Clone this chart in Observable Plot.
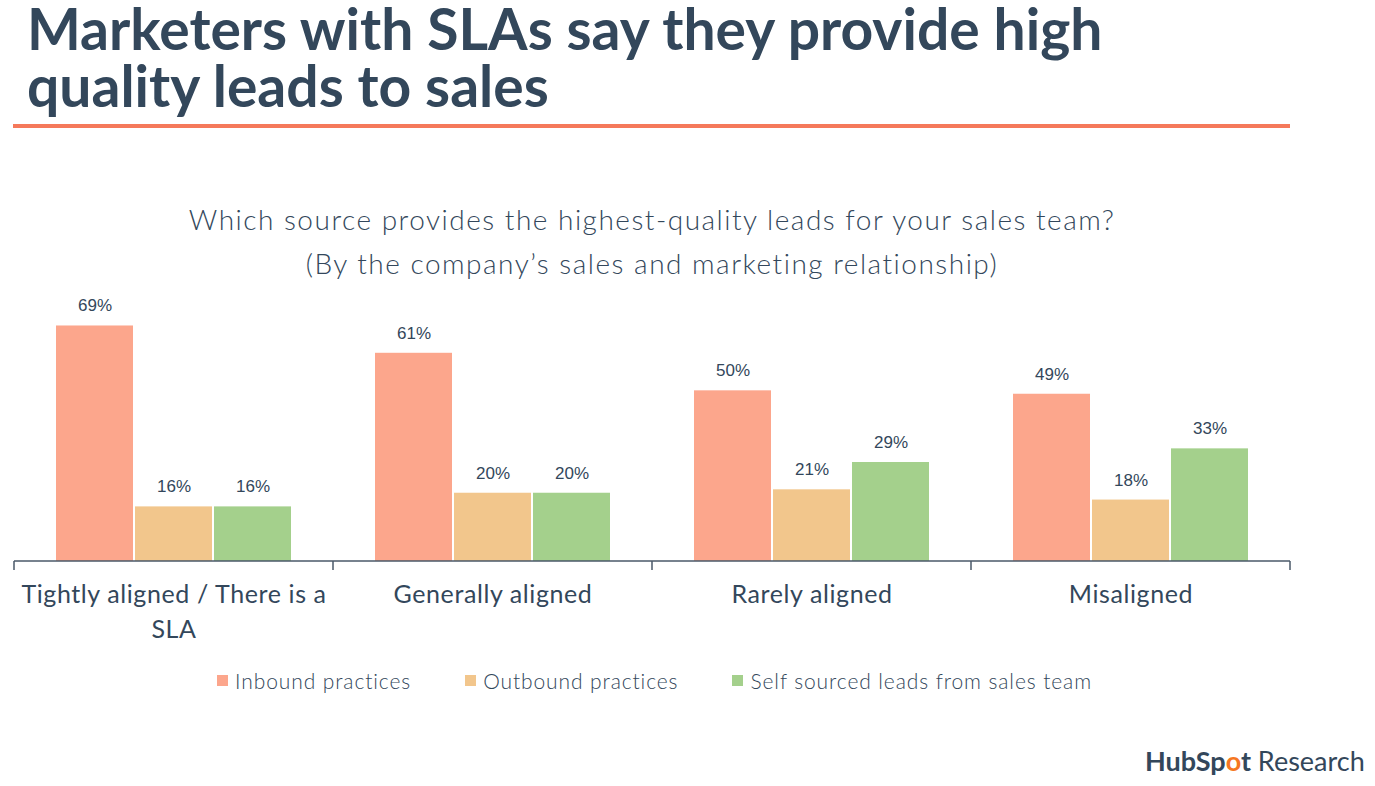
<!DOCTYPE html>
<html><head><meta charset="utf-8">
<script src="https://cdn.jsdelivr.net/npm/d3@7"></script>
<script src="https://cdn.jsdelivr.net/npm/@observablehq/plot@0.6"></script>
<style>
html,body{margin:0;padding:0;background:#fff}
body{width:1375px;height:786px;position:relative;overflow:hidden;font-family:Lato,"Open Sans",sans-serif;color:#33475b}
#title{position:absolute;left:27px;top:0px;font-weight:700;font-size:57px;line-height:57px;white-space:nowrap}
#rule{position:absolute;left:13px;top:124px;width:1277px;height:4px;background:#f5795b}
#subtitle{position:absolute;left:0;width:1304px;top:197px;text-align:center;font-size:28px;line-height:44px;font-weight:300;letter-spacing:1.5px}
#chart{position:absolute;left:0;top:290px}
#legend{position:absolute;left:0;width:1309px;top:668px;display:flex;justify-content:center;gap:54px;font-size:21px;font-weight:300;letter-spacing:0.9px}
#legend .item{display:flex;align-items:center;gap:7px}
#legend .sw{width:11px;height:11px;display:inline-block}
#logo{position:absolute;left:1145px;top:744px;font-size:27px;white-space:nowrap}
#logo b{font-weight:700}
</style></head>
<body>
<div id="title">Marketers with SLAs say they provide high<br>quality leads to sales</div>
<div id="rule"></div>
<div id="subtitle">Which source provides the highest-quality leads for your sales team?<br>(By the company’s sales and marketing relationship)</div>
<div id="chart"></div>
<div id="legend"></div>
<div id="logo"><b>HubSp<span style="color:#f57722">o</span>t</b> Research</div>
<script>
const categories = ["Tightly aligned / There is a SLA", "Generally aligned", "Rarely aligned", "Misaligned"];
const categoryLabels = ["Tightly aligned / There is a\nSLA", "Generally aligned", "Rarely aligned", "Misaligned"];
const series = ["Inbound practices", "Outbound practices", "Self sourced leads from sales team"];
const inbound = [69, 61, 50, 49];
const outbound = [16, 20, 21, 18];
const selfSourced = [16, 20, 29, 33];
const colors = ["#fca68c", "#f2c68c", "#a4d08c"];

const seriesValues = [inbound, outbound, selfSourced];
const data = categories.flatMap((c, i) => series.map((s, j) => ({category: c, series: s, value: seriesValues[j][i]})));
const labelOf = new Map(categories.map((c, i) => [c, categoryLabels[i]]));

const plot = Plot.plot({
  width: 1375, height: 360,
  marginLeft: 13, marginRight: 85, marginTop: 15, marginBottom: 89,
  style: {fontFamily: "Lato, sans-serif", color: "#33475b", background: "transparent", overflow: "visible"},
  fx: {domain: categories, padding: 0, axis: null},
  x: {domain: series, paddingInner: 0.025, paddingOuter: 0.5075, axis: null},
  y: {domain: [0, 75], axis: null},
  color: {domain: series, range: colors},
  marks: [
    Plot.barY(data, {fx: "category", x: "series", y: "value", fill: "series"}),
    Plot.text(data, {fx: "category", x: "series", y: "value", text: d => d.value + "%", dy: -20,
      fontSize: 17, fill: "#33475b", fontFamily: "Liberation Sans, Arial, sans-serif"}),
    Plot.axisFx({anchor: "bottom", label: null, tickSize: 0, tickPadding: 17, fontSize: 25, lineHeight: 1.4,
      tickFormat: d => labelOf.get(d), fill: "#33475b"})
  ]
});
document.getElementById("chart").appendChild(plot);

// letter spacing for category labels
d3.select(plot).selectAll("[aria-label='fx-axis tick label'] text").style("letter-spacing", "0.6px");

// baseline and category boundary ticks from the fx scale
const fx = plot.scale("fx");
const y = plot.scale("y");
const y0 = y.apply(0);
const edges = categories.map(c => fx.apply(c)).concat([fx.apply(categories[categories.length - 1]) + fx.bandwidth]);
const svg = d3.select(plot);
const g = svg.append("g").attr("stroke", "#4a5868").attr("stroke-width", 1.5);
g.append("line").attr("x1", edges[0]).attr("x2", edges[edges.length - 1]).attr("y1", y0).attr("y2", y0);
edges.forEach(e => g.append("line").attr("x1", e).attr("x2", e).attr("y1", y0).attr("y2", y0 + 9));

// legend
const legend = d3.select("#legend");
series.forEach((s, i) => {
  const it = legend.append("div").attr("class", "item");
  it.append("span").attr("class", "sw").style("background", colors[i]);
  it.append("span").text(s);
});
</script>
</body></html>
